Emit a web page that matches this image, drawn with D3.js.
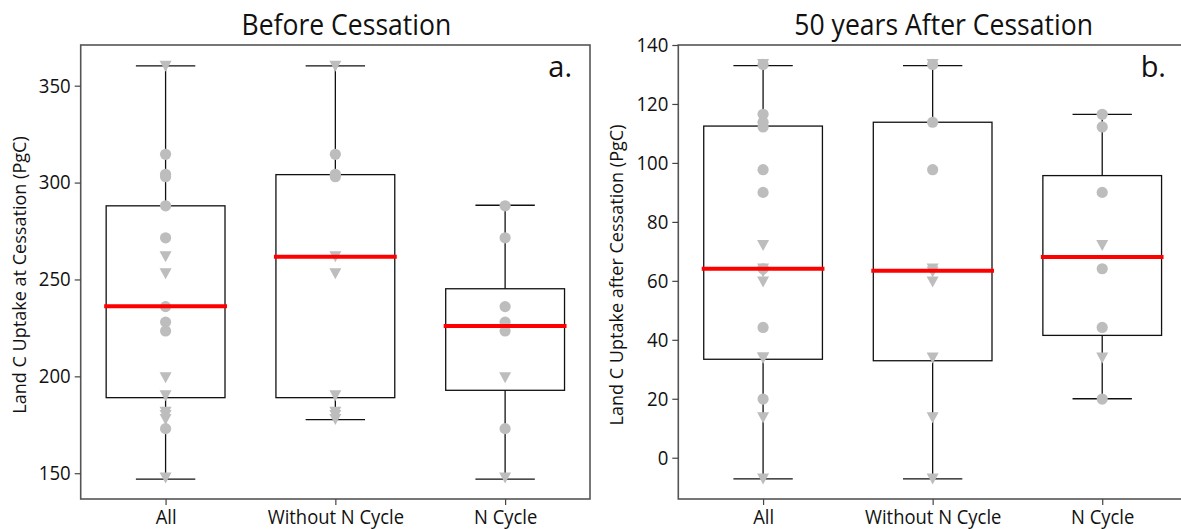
<!DOCTYPE html>
<html>
<head>
<meta charset="utf-8">
<script src="https://cdn.jsdelivr.net/npm/d3@7"></script>
<style>
  body { margin: 0; background: #fff; }
  text { font-family: "Open Sans", "Noto Sans", sans-serif; fill: #111; }
</style>
</head>
<body>
<div id="chart"></div>
<script>
const categories = ["All", "Without N Cycle", "N Cycle"];

// panel a: land C uptake at cessation (PgC)
const beforeNoNCircles = [314.6, 304.3, 303.0];
const beforeNoNTriangles = [360.0, 261.7, 253.0, 190.0, 181.5, 179.8, 177.7];
const beforeNCircles = [288.0, 271.5, 236.0, 228.0, 223.4, 173.0];
const beforeNTriangles = [199.3, 147.5];
// [lower whisker, q1, median, q3, upper whisker] per category
const beforeStats = [
    [147.0, 189.0, 236.2, 288.0, 360.2],
    [177.7, 189.0, 261.7, 304.1, 360.2],
    [147.0, 192.8, 226.0, 245.2, 288.3]
];
const beforeTicks = [150, 200, 250, 300, 350];

// panel b: land C uptake 50 years after cessation (PgC)
const afterNoNCircles = [133.4, 113.8, 97.7];
const afterNoNTriangles = [133.4, 64.0, 63.0, 59.6, 33.8, 13.6, -7.2];
const afterNCircles = [116.5, 112.2, 90.0, 64.1, 44.2, 19.9];
const afterNTriangles = [72.0, 33.8];
const afterStats = [
    [-7.2, 33.4, 64.1, 112.5, 133.0],
    [-7.2, 32.9, 63.4, 113.8, 133.0],
    [20.0, 41.5, 68.1, 95.7, 116.5]
];
const afterTicks = [0, 20, 40, 60, 80, 100, 120, 140];

const width = 1181, height = 529;
const svg = d3.select("#chart").append("svg")
    .attr("width", width)
    .attr("height", height);

// squeeze text horizontally to look like the narrow original font
function condense(sel, k) {
    sel.each(function () {
        const len = this.getComputedTextLength();
        d3.select(this)
            .attr("textLength", len * k)
            .attr("lengthAdjust", "spacingAndGlyphs");
    });
}

function drawPanel(cfg) {
    const g = svg.append("g");
    const x = d3.scalePoint()
        .domain(categories)
        .range([cfg.left, cfg.right])
        .padding(0.5);
    const y = d3.scaleLinear()
        .domain(cfg.domain)
        .range([cfg.bottom, cfg.top]);
    const step = x.step();
    const boxW = step * 0.70;
    const capW = step * 0.35;

    // points per column: "All" is both groups together
    const columns = [
        { circles: cfg.noNCircles.concat(cfg.nCircles), triangles: cfg.noNTriangles.concat(cfg.nTriangles) },
        { circles: cfg.noNCircles, triangles: cfg.noNTriangles },
        { circles: cfg.nCircles, triangles: cfg.nTriangles }
    ];

    const boxes = g.selectAll(".box")
        .data(cfg.stats)
        .enter()
        .append("g")
        .attr("class", "box");

    boxes.append("rect")
        .attr("x", (d, i) => x(categories[i]) - boxW / 2)
        .attr("y", d => y(d[3]))
        .attr("width", boxW)
        .attr("height", d => y(d[1]) - y(d[3]))
        .attr("fill", "none")
        .attr("stroke", "#111")
        .attr("stroke-width", 1.3);

    // whiskers
    boxes.append("line")
        .attr("x1", (d, i) => x(categories[i]))
        .attr("x2", (d, i) => x(categories[i]))
        .attr("y1", d => y(d[3]))
        .attr("y2", d => y(d[4]))
        .attr("stroke", "#111").attr("stroke-width", 1.3);
    boxes.append("line")
        .attr("x1", (d, i) => x(categories[i]))
        .attr("x2", (d, i) => x(categories[i]))
        .attr("y1", d => y(d[1]))
        .attr("y2", d => y(d[0]))
        .attr("stroke", "#111").attr("stroke-width", 1.3);
    boxes.append("line")
        .attr("x1", (d, i) => x(categories[i]) - capW / 2)
        .attr("x2", (d, i) => x(categories[i]) + capW / 2)
        .attr("y1", d => y(d[4]))
        .attr("y2", d => y(d[4]))
        .attr("stroke", "#111").attr("stroke-width", 1.3);
    boxes.append("line")
        .attr("x1", (d, i) => x(categories[i]) - capW / 2)
        .attr("x2", (d, i) => x(categories[i]) + capW / 2)
        .attr("y1", d => y(d[0]))
        .attr("y2", d => y(d[0]))
        .attr("stroke", "#111").attr("stroke-width", 1.3);

    // model points
    const triangle = "M-6,-5.5L6,-5.5L0,5.5Z";
    columns.forEach((col, i) => {
        const cx = x(categories[i]);
        g.selectAll(null)
            .data(col.triangles)
            .enter()
            .append("path")
            .attr("d", triangle)
            .attr("transform", d => `translate(${cx},${y(d)})`)
            .attr("fill", "#bdbdbd");
        g.selectAll(null)
            .data(col.circles)
            .enter()
            .append("circle")
            .attr("cx", cx)
            .attr("cy", d => y(d))
            .attr("r", 5.6)
            .attr("fill", "#bdbdbd");
    });

    // medians
    g.selectAll(".median")
        .data(cfg.stats)
        .enter()
        .append("line")
        .attr("class", "median")
        .attr("x1", (d, i) => x(categories[i]) - boxW / 2 - 2)
        .attr("x2", (d, i) => x(categories[i]) + boxW / 2 + 2)
        .attr("y1", d => y(d[2]))
        .attr("y2", d => y(d[2]))
        .attr("stroke", "#ff0000")
        .attr("stroke-width", 4);

    // frame
    g.append("rect")
        .attr("x", cfg.left)
        .attr("y", cfg.top)
        .attr("width", cfg.right - cfg.left)
        .attr("height", cfg.bottom - cfg.top)
        .attr("fill", "none")
        .attr("stroke", "#555")
        .attr("stroke-width", 1.6);

    const yAxis = g.append("g")
        .attr("transform", `translate(${cfg.left},0)`)
        .call(d3.axisLeft(y).tickValues(cfg.ticks).tickSize(6).tickPadding(4));
    yAxis.select(".domain").remove();
    yAxis.selectAll(".tick line").attr("stroke", "#444").attr("stroke-width", 1.2);
    yAxis.selectAll(".tick text")
        .style("font-size", "20px")
        .style("font-family", "'Open Sans', sans-serif")
        .attr("fill", "#111")
        .call(condense, 0.93);

    const xAxis = g.append("g")
        .attr("transform", `translate(0,${cfg.bottom})`)
        .call(d3.axisBottom(x).tickSize(6).tickPadding(5));
    xAxis.select(".domain").remove();
    xAxis.selectAll(".tick line").attr("stroke", "#444").attr("stroke-width", 1.2);
    xAxis.selectAll(".tick text")
        .style("font-size", "20px")
        .style("font-family", "'Open Sans', sans-serif")
        .attr("fill", "#111")
        .call(condense, 0.92);

    g.append("text")
        .attr("x", (cfg.left + cfg.right) / 2 + 11)
        .attr("y", 35)
        .attr("text-anchor", "middle")
        .style("font-size", "30px")
        .text(cfg.title)
        .call(condense, 0.885);

    g.append("text")
        .attr("transform", `translate(${cfg.labelX},${(cfg.top + cfg.bottom) / 2 + 3}) rotate(-90)`)
        .attr("text-anchor", "middle")
        .style("font-size", "19px")
        .text(cfg.yLabel)
        .call(condense, 0.95);

    g.append("text")
        .attr("x", cfg.tagX)
        .attr("y", 77)
        .attr("text-anchor", "end")
        .style("font-size", "29px")
        .text(cfg.tag);
}

drawPanel({
    left: 80.7, right: 590, top: 45, bottom: 499,
    domain: [136.7, 371.0], ticks: beforeTicks, stats: beforeStats,
    noNCircles: beforeNoNCircles, noNTriangles: beforeNoNTriangles,
    nCircles: beforeNCircles, nTriangles: beforeNTriangles,
    title: "Before Cessation",
    yLabel: "Land C Uptake at Cessation (PgC)", labelX: 26,
    tag: "a.", tagX: 572
});

drawPanel({
    left: 678.3, right: 1187, top: 45, bottom: 499,
    domain: [-14.0, 140.0], ticks: afterTicks, stats: afterStats,
    noNCircles: afterNoNCircles, noNTriangles: afterNoNTriangles,
    nCircles: afterNCircles, nTriangles: afterNTriangles,
    title: "50 years After Cessation",
    yLabel: "Land C Uptake after Cessation (PgC)", labelX: 623,
    tag: "b.", tagX: 1166
});
</script>
</body>
</html>
